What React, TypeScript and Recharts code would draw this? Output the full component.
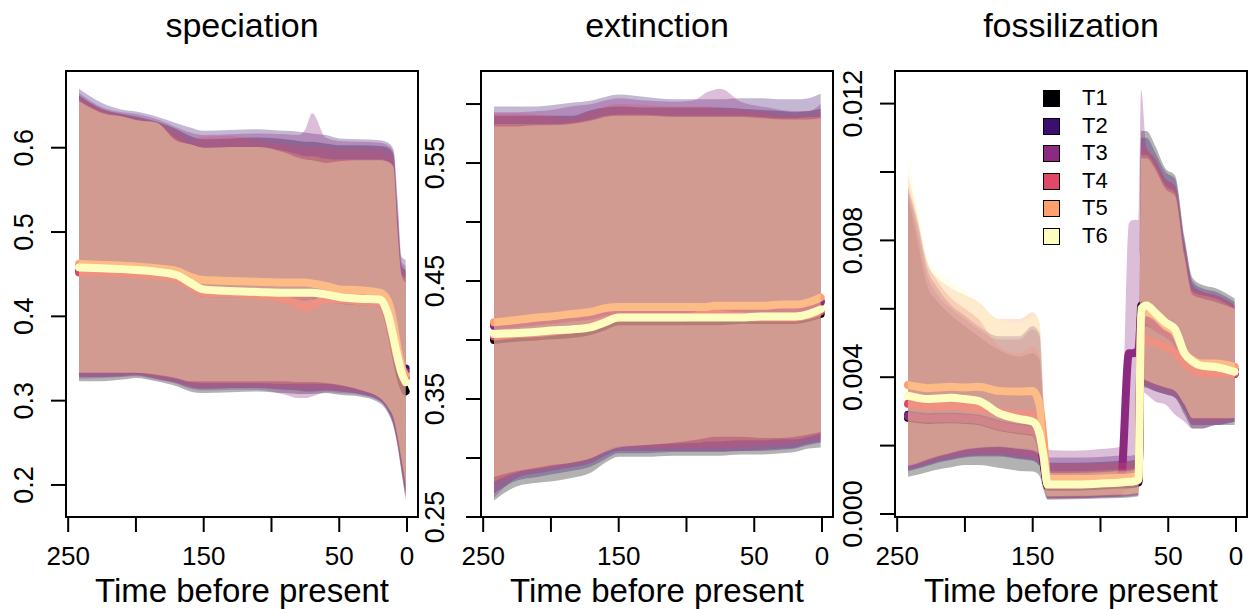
import React from 'react';
import { ComposedChart, Area, Line, XAxis, YAxis, ReferenceArea } from 'recharts';

// treatments and their colours (magma palette)
const seriesNames = ['T1', 'T2', 'T3', 'T4', 'T5', 'T6'];
const seriesColors = ['#000004', '#3B0F70', '#8C2981', '#DE4968', '#FE9F6D', '#FCFDBF'];

const xTicks = [250, 200, 150, 100, 50, 0];
const xTickLabels = ['250', '150', '50', '0'];

// ---- speciation ----
const spTime = [242, 225, 210, 200, 185, 170, 160, 150, 130, 110, 90, 80, 75, 70, 60, 50, 35, 20, 14, 10, 7, 4, 1];
const spHi = [
  [0.662, 0.646, 0.640, 0.637, 0.631, 0.622, 0.614, 0.610, 0.611, 0.612, 0.610, 0.608, 0.607, 0.607, 0.605, 0.603, 0.603, 0.602, 0.600, 0.592, 0.520, 0.460, 0.455],
  [0.670, 0.653, 0.645, 0.643, 0.637, 0.629, 0.624, 0.620, 0.621, 0.622, 0.620, 0.619, 0.618, 0.617, 0.615, 0.611, 0.610, 0.609, 0.606, 0.598, 0.540, 0.471, 0.467],
  [0.665, 0.648, 0.642, 0.640, 0.634, 0.624, 0.618, 0.615, 0.616, 0.617, 0.616, 0.615, 0.622, 0.641, 0.612, 0.608, 0.607, 0.606, 0.603, 0.595, 0.530, 0.465, 0.460],
  [0.660, 0.645, 0.639, 0.635, 0.630, 0.619, 0.609, 0.613, 0.614, 0.609, 0.604, 0.602, 0.601, 0.601, 0.600, 0.598, 0.598, 0.597, 0.595, 0.588, 0.515, 0.455, 0.450],
  [0.656, 0.642, 0.637, 0.633, 0.630, 0.610, 0.604, 0.600, 0.601, 0.601, 0.596, 0.592, 0.590, 0.590, 0.587, 0.586, 0.586, 0.586, 0.584, 0.578, 0.505, 0.450, 0.445],
  [0.655, 0.641, 0.637, 0.633, 0.630, 0.608, 0.604, 0.600, 0.601, 0.601, 0.594, 0.588, 0.586, 0.585, 0.582, 0.584, 0.585, 0.585, 0.583, 0.577, 0.500, 0.448, 0.440],
];
const spLo = [
  [0.323, 0.323, 0.325, 0.327, 0.323, 0.317, 0.311, 0.309, 0.310, 0.311, 0.309, 0.308, 0.308, 0.308, 0.309, 0.307, 0.305, 0.297, 0.285, 0.269, 0.246, 0.214, 0.182],
  [0.328, 0.328, 0.329, 0.330, 0.326, 0.321, 0.316, 0.314, 0.315, 0.315, 0.313, 0.312, 0.311, 0.311, 0.312, 0.311, 0.308, 0.300, 0.288, 0.272, 0.249, 0.218, 0.188],
  [0.326, 0.327, 0.328, 0.329, 0.325, 0.320, 0.314, 0.312, 0.313, 0.313, 0.307, 0.303, 0.303, 0.305, 0.310, 0.309, 0.307, 0.299, 0.287, 0.271, 0.248, 0.216, 0.185],
  [0.330, 0.330, 0.331, 0.331, 0.327, 0.323, 0.318, 0.316, 0.317, 0.317, 0.315, 0.314, 0.313, 0.313, 0.314, 0.313, 0.310, 0.301, 0.290, 0.275, 0.252, 0.222, 0.192],
  [0.333, 0.333, 0.333, 0.333, 0.330, 0.326, 0.322, 0.321, 0.321, 0.321, 0.320, 0.320, 0.320, 0.320, 0.320, 0.318, 0.313, 0.303, 0.292, 0.279, 0.257, 0.228, 0.198],
  [0.333, 0.333, 0.333, 0.333, 0.331, 0.327, 0.323, 0.323, 0.323, 0.323, 0.323, 0.322, 0.322, 0.322, 0.321, 0.319, 0.313, 0.303, 0.292, 0.280, 0.258, 0.230, 0.202],
];
const spMed = [
  [0.455, 0.454, 0.453, 0.452, 0.450, 0.446, 0.437, 0.428, 0.427, 0.426, 0.425, 0.425, 0.425, 0.425, 0.423, 0.420, 0.418, 0.416, 0.398, 0.368, 0.343, 0.323, 0.311],
  [0.457, 0.456, 0.455, 0.454, 0.452, 0.448, 0.439, 0.431, 0.429, 0.428, 0.427, 0.427, 0.427, 0.427, 0.425, 0.422, 0.420, 0.418, 0.401, 0.374, 0.352, 0.338, 0.338],
  [0.456, 0.455, 0.454, 0.453, 0.451, 0.447, 0.438, 0.430, 0.428, 0.427, 0.426, 0.424, 0.423, 0.426, 0.424, 0.421, 0.419, 0.417, 0.400, 0.372, 0.350, 0.336, 0.334],
  [0.452, 0.452, 0.451, 0.450, 0.448, 0.445, 0.436, 0.428, 0.427, 0.425, 0.420, 0.414, 0.411, 0.413, 0.420, 0.420, 0.418, 0.416, 0.399, 0.371, 0.349, 0.333, 0.327],
  [0.462, 0.461, 0.460, 0.459, 0.457, 0.454, 0.447, 0.443, 0.442, 0.441, 0.440, 0.440, 0.440, 0.439, 0.436, 0.432, 0.431, 0.428, 0.418, 0.392, 0.362, 0.340, 0.330],
  [0.458, 0.457, 0.456, 0.455, 0.453, 0.449, 0.440, 0.432, 0.430, 0.429, 0.428, 0.428, 0.428, 0.428, 0.426, 0.423, 0.421, 0.420, 0.402, 0.375, 0.352, 0.333, 0.322],
];
const spYTicks = [0.2, 0.3, 0.4, 0.5, 0.6];
const spYLabels = ['0.2', '0.3', '0.4', '0.5', '0.6'];

// ---- extinction ----
const exTime = [242, 225, 210, 200, 185, 170, 160, 150, 130, 110, 95, 90, 85, 80, 75, 60, 45, 30, 20, 10, 1];
const exHi = [
  [0.590, 0.590, 0.590, 0.590, 0.590, 0.595, 0.597, 0.598, 0.597, 0.597, 0.597, 0.597, 0.597, 0.597, 0.597, 0.596, 0.595, 0.594, 0.593, 0.594, 0.596],
  [0.598, 0.598, 0.598, 0.599, 0.601, 0.603, 0.606, 0.608, 0.606, 0.604, 0.604, 0.604, 0.604, 0.604, 0.604, 0.605, 0.605, 0.604, 0.604, 0.605, 0.609],
  [0.593, 0.593, 0.594, 0.595, 0.598, 0.600, 0.603, 0.605, 0.603, 0.602, 0.603, 0.606, 0.610, 0.612, 0.613, 0.602, 0.598, 0.595, 0.594, 0.594, 0.600],
  [0.592, 0.592, 0.591, 0.590, 0.588, 0.594, 0.598, 0.600, 0.599, 0.598, 0.598, 0.598, 0.598, 0.597, 0.596, 0.595, 0.593, 0.591, 0.590, 0.590, 0.592],
  [0.583, 0.583, 0.583, 0.583, 0.584, 0.587, 0.590, 0.591, 0.591, 0.590, 0.590, 0.590, 0.590, 0.590, 0.590, 0.590, 0.589, 0.588, 0.588, 0.589, 0.589],
  [0.581, 0.581, 0.582, 0.582, 0.583, 0.586, 0.589, 0.590, 0.590, 0.589, 0.589, 0.589, 0.589, 0.589, 0.589, 0.589, 0.588, 0.587, 0.587, 0.587, 0.588],
];
const exLo = [
  [0.264, 0.276, 0.279, 0.280, 0.283, 0.288, 0.296, 0.301, 0.301, 0.302, 0.302, 0.302, 0.302, 0.302, 0.302, 0.303, 0.303, 0.304, 0.305, 0.308, 0.309],
  [0.270, 0.281, 0.284, 0.286, 0.289, 0.293, 0.299, 0.304, 0.304, 0.305, 0.305, 0.305, 0.305, 0.305, 0.305, 0.306, 0.306, 0.307, 0.308, 0.311, 0.313],
  [0.266, 0.283, 0.287, 0.289, 0.292, 0.296, 0.302, 0.306, 0.306, 0.306, 0.306, 0.306, 0.306, 0.306, 0.306, 0.306, 0.307, 0.308, 0.309, 0.312, 0.314],
  [0.276, 0.286, 0.289, 0.291, 0.294, 0.298, 0.304, 0.308, 0.308, 0.308, 0.308, 0.308, 0.308, 0.308, 0.308, 0.309, 0.310, 0.311, 0.312, 0.315, 0.316],
  [0.280, 0.288, 0.291, 0.293, 0.296, 0.300, 0.306, 0.310, 0.311, 0.312, 0.313, 0.313, 0.314, 0.314, 0.314, 0.315, 0.315, 0.316, 0.316, 0.318, 0.321],
  [0.284, 0.289, 0.292, 0.294, 0.296, 0.300, 0.305, 0.309, 0.311, 0.313, 0.315, 0.316, 0.317, 0.318, 0.318, 0.318, 0.317, 0.317, 0.318, 0.320, 0.322],
];
const exMed = [
  [0.400, 0.402, 0.403, 0.404, 0.405, 0.408, 0.412, 0.416, 0.416, 0.416, 0.416, 0.416, 0.416, 0.416, 0.416, 0.417, 0.417, 0.417, 0.417, 0.419, 0.422],
  [0.413, 0.415, 0.416, 0.418, 0.420, 0.422, 0.425, 0.427, 0.427, 0.427, 0.427, 0.427, 0.428, 0.428, 0.428, 0.428, 0.428, 0.428, 0.428, 0.430, 0.433],
  [0.412, 0.414, 0.416, 0.417, 0.419, 0.421, 0.424, 0.426, 0.426, 0.426, 0.426, 0.427, 0.428, 0.428, 0.427, 0.427, 0.427, 0.427, 0.427, 0.429, 0.432],
  [0.403, 0.405, 0.406, 0.407, 0.409, 0.412, 0.416, 0.419, 0.419, 0.419, 0.420, 0.422, 0.424, 0.424, 0.422, 0.420, 0.419, 0.419, 0.419, 0.421, 0.424],
  [0.415, 0.417, 0.419, 0.420, 0.422, 0.424, 0.427, 0.428, 0.428, 0.428, 0.428, 0.428, 0.428, 0.429, 0.429, 0.429, 0.429, 0.430, 0.430, 0.432, 0.436],
  [0.405, 0.406, 0.407, 0.408, 0.409, 0.411, 0.415, 0.419, 0.419, 0.419, 0.419, 0.419, 0.419, 0.419, 0.419, 0.419, 0.420, 0.420, 0.420, 0.422, 0.426],
];
const exYTicks = [0.25, 0.3, 0.35, 0.4, 0.45, 0.5, 0.55, 0.6];
const exYLabels = ['0.25', '', '0.35', '', '0.45', '', '0.55', ''];

// ---- fossilization ----
const foTime = [242, 235, 228, 220, 210, 200, 190, 175, 160, 150, 145, 142, 139, 120, 100, 85, 79, 76, 72, 70, 66, 60, 52, 45, 38, 32, 25, 15, 1];
const foHi = [
  [0.0093, 0.0080, 0.0067, 0.0062, 0.0058, 0.0055, 0.0052, 0.0048, 0.0046, 0.0047, 0.0045, 0.0030, 0.00150, 0.00150, 0.00152, 0.00155, 0.00155, 0.00158, 0.00160, 0.0112, 0.0112, 0.0108, 0.0101, 0.0099, 0.0081, 0.0069, 0.0067, 0.0066, 0.0063],
  [0.0095, 0.0085, 0.0072, 0.0066, 0.0061, 0.0058, 0.0055, 0.0052, 0.0052, 0.0055, 0.0053, 0.0032, 0.00165, 0.00165, 0.00167, 0.00170, 0.00170, 0.00172, 0.00175, 0.0110, 0.0110, 0.0106, 0.0100, 0.0098, 0.0080, 0.0068, 0.0066, 0.0065, 0.0062],
  [0.0094, 0.0083, 0.0070, 0.0064, 0.0060, 0.0057, 0.0054, 0.0051, 0.0051, 0.0054, 0.0052, 0.0032, 0.00187, 0.00185, 0.00190, 0.00197, 0.00850, 0.00860, 0.00860, 0.0124, 0.0107, 0.0104, 0.0098, 0.0096, 0.0079, 0.0067, 0.0065, 0.0064, 0.0061],
  [0.0096, 0.0086, 0.0074, 0.0068, 0.0063, 0.0060, 0.0057, 0.0049, 0.0047, 0.0049, 0.0046, 0.0030, 0.00145, 0.00145, 0.00147, 0.00150, 0.00150, 0.00152, 0.00155, 0.0108, 0.0107, 0.0104, 0.0098, 0.0096, 0.0078, 0.0066, 0.0065, 0.0064, 0.0061],
  [0.0099, 0.0087, 0.0073, 0.0069, 0.0066, 0.0064, 0.0062, 0.0057, 0.0057, 0.0059, 0.0056, 0.0033, 0.00125, 0.00125, 0.00127, 0.00130, 0.00130, 0.00132, 0.00135, 0.0105, 0.0105, 0.0102, 0.0096, 0.0094, 0.0076, 0.0065, 0.0064, 0.0063, 0.0060],
  [0.0104, 0.0090, 0.0075, 0.0071, 0.0068, 0.0065, 0.0062, 0.0057, 0.0056, 0.0058, 0.0056, 0.0033, 0.00120, 0.00120, 0.00122, 0.00125, 0.00125, 0.00128, 0.00130, 0.0104, 0.0104, 0.0101, 0.0095, 0.0093, 0.0075, 0.0064, 0.0063, 0.0062, 0.0060],
];
const foLo = [
  [0.00109, 0.00115, 0.00122, 0.00130, 0.00137, 0.00143, 0.00143, 0.00135, 0.00126, 0.00124, 0.00112, 0.0007, 0.00042, 0.00043, 0.00045, 0.00047, 0.00048, 0.00050, 0.00052, 0.0038, 0.0037, 0.0036, 0.0035, 0.0034, 0.0029, 0.0025, 0.0025, 0.0026, 0.0026],
  [0.00125, 0.00132, 0.00140, 0.00150, 0.00158, 0.00165, 0.00168, 0.00168, 0.00160, 0.00155, 0.00140, 0.0009, 0.00045, 0.00046, 0.00048, 0.00050, 0.00051, 0.00053, 0.00055, 0.0037, 0.0037, 0.0036, 0.0035, 0.0034, 0.0030, 0.0026, 0.0026, 0.0026, 0.0027],
  [0.00128, 0.00135, 0.00143, 0.00153, 0.00161, 0.00168, 0.00171, 0.00171, 0.00163, 0.00158, 0.00143, 0.0009, 0.00046, 0.00047, 0.00049, 0.00052, 0.00100, 0.00110, 0.00120, 0.0036, 0.0035, 0.0033, 0.0032, 0.0029, 0.0027, 0.0025, 0.0025, 0.0026, 0.0027],
  [0.00135, 0.00142, 0.00150, 0.00160, 0.00168, 0.00175, 0.00178, 0.00178, 0.00170, 0.00165, 0.00150, 0.0010, 0.00048, 0.00049, 0.00051, 0.00053, 0.00054, 0.00056, 0.00058, 0.0038, 0.0038, 0.0037, 0.0036, 0.0035, 0.0031, 0.0027, 0.0027, 0.0027, 0.0028],
  [0.00143, 0.00150, 0.00160, 0.00170, 0.00180, 0.00190, 0.00195, 0.00198, 0.00192, 0.00188, 0.00175, 0.0009, 0.00050, 0.00051, 0.00053, 0.00055, 0.00056, 0.00058, 0.00060, 0.0039, 0.0039, 0.0038, 0.0037, 0.0036, 0.0032, 0.0028, 0.0028, 0.0028, 0.0028],
  [0.00140, 0.00148, 0.00158, 0.00168, 0.00178, 0.00188, 0.00193, 0.00196, 0.00190, 0.00185, 0.00172, 0.0009, 0.00052, 0.00053, 0.00055, 0.00057, 0.00058, 0.00060, 0.00062, 0.0040, 0.0039, 0.0038, 0.0037, 0.0036, 0.0032, 0.0028, 0.0028, 0.0028, 0.0028],
];
const foMed = [
  [0.00281, 0.00278, 0.00275, 0.00276, 0.00277, 0.00275, 0.00272, 0.00255, 0.00245, 0.00240, 0.00215, 0.0015, 0.00080, 0.00080, 0.00083, 0.00086, 0.00087, 0.00088, 0.00092, 0.0061, 0.0060, 0.0058, 0.0055, 0.0053, 0.0047, 0.0044, 0.0043, 0.0042, 0.0041],
  [0.00290, 0.00286, 0.00283, 0.00284, 0.00284, 0.00282, 0.00279, 0.00262, 0.00252, 0.00248, 0.00222, 0.0016, 0.00085, 0.00085, 0.00088, 0.00091, 0.00092, 0.00093, 0.00097, 0.0056, 0.0056, 0.0055, 0.0053, 0.0051, 0.0046, 0.0044, 0.0043, 0.0042, 0.0042],
  [0.00286, 0.00282, 0.00279, 0.00280, 0.00280, 0.00278, 0.00275, 0.00258, 0.00248, 0.00244, 0.00218, 0.0016, 0.00090, 0.00090, 0.00093, 0.00100, 0.00470, 0.00470, 0.00480, 0.0058, 0.0057, 0.0055, 0.0053, 0.0051, 0.0046, 0.0043, 0.0042, 0.0042, 0.0042],
  [0.00322, 0.00318, 0.00315, 0.00316, 0.00316, 0.00312, 0.00308, 0.00300, 0.00292, 0.00290, 0.00260, 0.0017, 0.00088, 0.00088, 0.00091, 0.00094, 0.00095, 0.00096, 0.00100, 0.0052, 0.0051, 0.0050, 0.0049, 0.0047, 0.0044, 0.0042, 0.0041, 0.0041, 0.0041],
  [0.00377, 0.00372, 0.00368, 0.00370, 0.00372, 0.00370, 0.00372, 0.00360, 0.00358, 0.00360, 0.00320, 0.0022, 0.00102, 0.00102, 0.00104, 0.00106, 0.00107, 0.00108, 0.00110, 0.0058, 0.0059, 0.0058, 0.0055, 0.0053, 0.0047, 0.0045, 0.0044, 0.0044, 0.0043],
  [0.00346, 0.00340, 0.00336, 0.00338, 0.00340, 0.00336, 0.00331, 0.00295, 0.00278, 0.00270, 0.00235, 0.0017, 0.00086, 0.00086, 0.00089, 0.00092, 0.00094, 0.00095, 0.00100, 0.0060, 0.0061, 0.0059, 0.0056, 0.0054, 0.0047, 0.00446, 0.00433, 0.0043, 0.00416],
];
const foYTicks = [0, 0.002, 0.004, 0.006, 0.008, 0.01, 0.012];
const foYLabels = ['0.000', '', '0.004', '', '0.008', '', '0.012'];

const W = 1249;
const H = 609;
const BOX_TOP = 71;
const BOX_BOTTOM = 517;
const X_DOMAIN: [number, number] = [-8.1, 251.6];
const FONT = '"Liberation Sans", Arial, Helvetica, sans-serif';

interface PanelProps {
  title: string;
  time: number[];
  lo: number[][];
  med: number[][];
  hi: number[][];
  yDomain: [number, number];
  yTicks: number[];
  yLabels: string[];
  boxLeft: number;
  boxRight: number;
  labelOffset: number;
}

const Panel: React.FC<PanelProps> = ({ title, time, lo, med, hi, yDomain, yTicks, yLabels, boxLeft, boxRight, labelOffset }) => {
  const data = time.map((t, k) => {
    const row: Record<string, number> = { t };
    seriesNames.forEach((_, i) => {
      row['lo' + i] = lo[i][k];
      row['hi' + i] = hi[i][k];
      row['md' + i] = med[i][k];
    });
    return row;
  });

  const XTick = (props: any) => {
    const label = String(props.payload.value);
    if (!xTickLabels.includes(label)) return <g />;
    return (
      <text x={props.x} y={565} textAnchor="middle" fontSize={26} fontFamily={FONT} fill="#000">
        {label}
      </text>
    );
  };

  const YTick = (props: any) => {
    const idx = yTicks.findIndex((v) => Math.abs(v - props.payload.value) < 1e-9);
    const label = idx >= 0 ? yLabels[idx] : '';
    if (!label) return <g />;
    const lx = boxLeft - labelOffset;
    return (
      <text x={lx} y={props.y} transform={`rotate(-90 ${lx} ${props.y})`} textAnchor="middle"
        fontSize={27} fontFamily={FONT} fill="#000">
        {label}
      </text>
    );
  };

  const cx = (boxLeft + boxRight) / 2;

  return (
    <div style={{ position: 'absolute', left: 0, top: 0 }}>
      <ComposedChart
        width={W}
        height={H}
        data={data}
        margin={{ top: BOX_TOP, right: W - boxRight, left: boxLeft - 60, bottom: 0 }}
      >
        <XAxis
          dataKey="t"
          type="number"
          domain={X_DOMAIN}
          reversed
          allowDataOverflow
          ticks={xTicks}
          interval={0}
          tickSize={15}
          axisLine={false}
          tickLine={{ stroke: '#000', strokeWidth: 2 }}
          tick={XTick}
          height={H - BOX_BOTTOM}
        />
        <YAxis
          type="number"
          domain={yDomain}
          allowDataOverflow
          ticks={yTicks}
          interval={0}
          tickSize={15}
          axisLine={false}
          tickLine={{ stroke: '#000', strokeWidth: 2 }}
          tick={YTick}
          width={60}
        />
        {seriesNames.flatMap((name, i) => [
          <Area
            key={'band' + name}
            type="monotone"
            dataKey={(d: any) => [d['lo' + i], d['hi' + i]]}
            fill={seriesColors[i]}
            fillOpacity={0.3}
            stroke="none"
            activeDot={false}
            isAnimationActive={false}
            zIndex={100 + 2 * i}
          />,
          <Line
            key={'med' + name}
            type="monotone"
            dataKey={'md' + i}
            stroke={seriesColors[i]}
            strokeWidth={8}
            strokeLinecap="round"
            strokeLinejoin="round"
            dot={false}
            activeDot={false}
            isAnimationActive={false}
            zIndex={101 + 2 * i}
          />,
        ])}
        <ReferenceArea
          x1={X_DOMAIN[0]}
          x2={X_DOMAIN[1]}
          y1={yDomain[0]}
          y2={yDomain[1]}
          fill="none"
          stroke="#000"
          strokeWidth={2}
          ifOverflow="visible"
          zIndex={900}
        />
      </ComposedChart>
      <svg width={W} height={H} style={{ position: 'absolute', left: 0, top: 0, pointerEvents: 'none' }}>
        <text x={cx} y={37} textAnchor="middle" fontSize={34} fontFamily={FONT} fill="#000">{title}</text>
        <text x={cx} y={602} textAnchor="middle" fontSize={33} fontFamily={FONT} fill="#000">Time before present</text>
      </svg>
    </div>
  );
};

const LegendBox: React.FC = () => (
  <div style={{ position: 'absolute', left: 1043, top: 90, fontFamily: FONT }}>
    {seriesNames.map((name, i) => (
      <div key={name} style={{ position: 'absolute', left: 0, top: i * 27.6, height: 18, width: 80 }}>
        <div style={{
          position: 'absolute', left: 0, top: 0, width: 15, height: 15,
          background: seriesColors[i], border: '1.5px solid #000',
        }} />
        <div style={{ position: 'absolute', left: 39, top: -5, fontSize: 22, lineHeight: '26px', color: '#000' }}>{name}</div>
      </div>
    ))}
  </div>
);

export default function App() {
  return (
    <div style={{ position: 'absolute', left: 0, top: 0, width: W, height: H, background: '#fff', overflow: 'hidden' }}>
      <Panel title="speciation" time={spTime} lo={spLo} med={spMed} hi={spHi}
        yDomain={[0.162, 0.691]} yTicks={spYTicks} yLabels={spYLabels}
        boxLeft={66} boxRight={418} labelOffset={33} />
      <Panel title="extinction" time={exTime} lo={exLo} med={exMed} hi={exHi}
        yDomain={[0.25, 0.628]} yTicks={exYTicks} yLabels={exYLabels}
        boxLeft={481} boxRight={833} labelOffset={37} />
      <Panel title="fossilization" time={foTime} lo={foLo} med={foMed} hi={foHi}
        yDomain={[-0.0000877, 0.012953]} yTicks={foYTicks} yLabels={foYLabels}
        boxLeft={895} boxRight={1247} labelOffset={33} />
      <LegendBox />
    </div>
  );
}
